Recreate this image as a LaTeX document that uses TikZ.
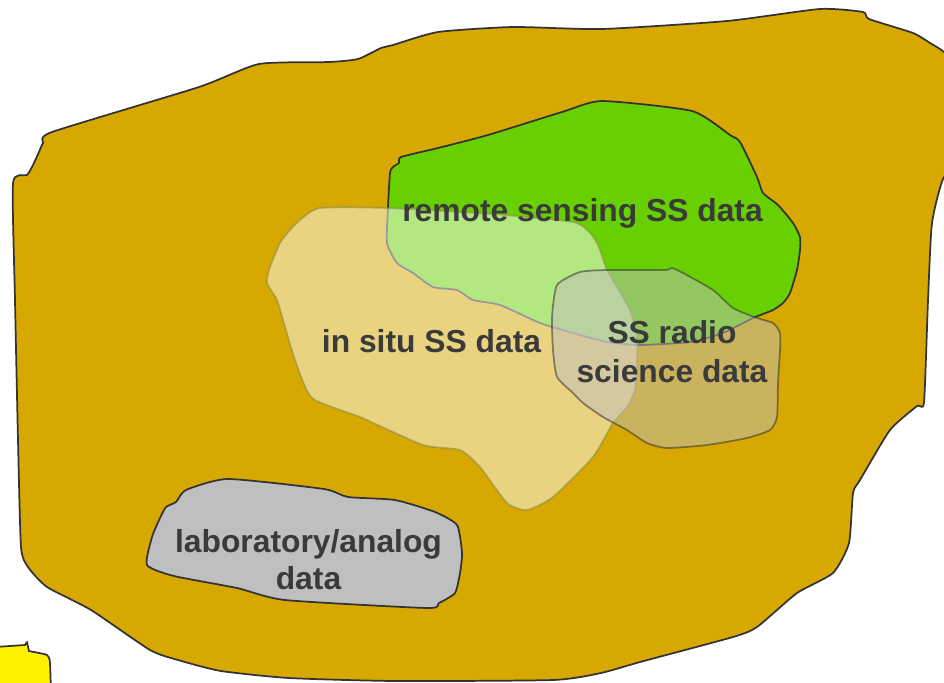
\documentclass[tikz,border=0pt]{standalone}
\usepackage{fontspec}
\setmainfont{Liberation Sans}
\begin{document}
\begin{tikzpicture}[x=0.75pt,y=-0.75pt,
  blobline/.style={line width=1.3pt, draw=blobdark, line join=round},
  lbl/.style={anchor=base, inner sep=0pt, text=labeltext, font=\fontsize{23.85}{28.5}\selectfont\bfseries}]
\definecolor{gold}{RGB}{214,168,0}
\definecolor{greenfill}{RGB}{104,208,0}
\definecolor{labgray}{RGB}{191,191,191}
\definecolor{blobdark}{RGB}{51,51,51}
\definecolor{labeltext}{RGB}{58,58,58}
\definecolor{situline}{RGB}{140,140,70}
\useasboundingbox (0,0) rectangle (944,682);
\clip (0,0) rectangle (944,682);
% big gold region
\draw[blobline, fill=gold] plot[smooth cycle, tension=0.35] coordinates {
 (52,132) (199,87) (259,64) (329,62) (358,59) (381,48) (393,45) (438,32) (513,27)
 (602,29) (727,21) (820,9) (863,12) (869,19) (913,33) (930,43) (944,52) (965,75)
 (965,170) (944,177) (932,223) (928,300) (924,402) (917,406) (890,430) (860,480)
 (853,493) (849,543) (833,573) (797,593) (757,627) (733,637) (640,662) (601,673)
 (553,680) (395,681) (289,678) (221,671) (178,660) (150,650) (91,610) (47,587)
 (28,567) (21,547) (18,440) (15,300) (13,183) (27,175) (33,165) (39,152) (43,143)};
% yellow corner shape
\draw[blobline, fill=yellow] (-5,647) -- (25,645) -- (27,642) -- (29,651) -- (44,654)
  to[out=0,in=90] (50,663) -- (51,690) -- (-5,690) -- cycle;
% laboratory / analog
\draw[blobline, fill=labgray] plot[smooth cycle, tension=0.35] coordinates {
 (228,479) (324,489) (348,497) (395,500) (435,512) (457,525) (462,553) (460,573)
 (455,593) (439,603) (427,608) (285,600) (237,588) (174,576) (147,565) (152,537)
 (160,518) (166,507) (176,502) (186,490)};
% remote sensing (green)
\draw[blobline, fill=greenfill] plot[smooth cycle, tension=0.35] coordinates {
 (401,157) (438,148) (488,135) (562,112) (602,101) (692,111) (730,135) (740,142)
 (757,177) (763,193) (778,205) (793,223) (800,237) (800,250) (797,270) (790,293)
 (783,303) (773,310) (753,318) (723,333) (690,342) (640,345) (607,342) (573,333)
 (540,323) (500,305) (473,300) (457,290) (433,287) (413,273) (397,263) (387,243)
 (388,207) (390,173) (393,167) (399,163)};
% in situ (translucent white)
\draw[line width=1.3pt, draw=situline, draw opacity=0.6, fill=white, fill opacity=0.5, line join=round]
 plot[smooth cycle, tension=0.35] coordinates {
 (320,208) (388,208) (493,214) (573,222) (590,233) (597,243) (600,250) (607,270)
 (617,287) (630,310) (637,337) (637,360) (635,390) (627,407) (613,423) (593,457)
 (553,497) (527,510) (507,503) (480,467) (460,450) (423,445) (360,417) (312,398)
 (295,360) (285,327) (277,300) (267,283) (270,267) (280,243) (290,230) (300,220)};
% radio science (translucent gray)
\draw[line width=1.3pt, draw=blobdark, draw opacity=0.55, fill=labgray, fill opacity=0.5, line join=round]
 plot[smooth cycle, tension=0.35] coordinates {
 (580,272) (607,270) (653,270) (667,270) (672,268) (683,273) (713,290) (733,308)
 (757,318) (773,323) (780,333) (780,350) (778,383) (777,417) (770,430) (747,438)
 (707,445) (667,448) (647,443) (627,430) (603,417) (583,403) (573,393) (557,377)
 (553,350) (552,317) (557,285)};
% labels
\node[lbl] (rs) at (582.5,221) {remote sensing SS data};
\node[lbl] (is) at (431.5,352) {in situ SS data};
\node[lbl] (sr1) at (672,343) {SS radio};
\node[lbl] (sr2) at (672,382) {science data};
\node[lbl] (la1) at (308.5,552) {laboratory/analog};
\node[lbl] (la2) at (308.5,589) {data};
\end{tikzpicture}
\end{document}
